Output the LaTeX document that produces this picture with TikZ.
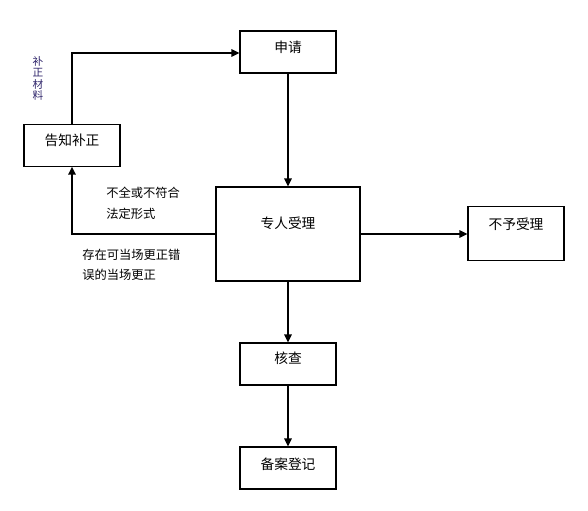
\documentclass[tikz,border=0pt]{standalone}
\usepackage{fontspec}
\setmainfont{Noto Sans CJK SC}
\usetikzlibrary{arrows.meta}
\definecolor{vlab}{RGB}{45,35,105}
\tikzset{
  box/.style={draw=black, line width=0.8pt, rectangle, inner sep=0pt},
  boxtext/.style={font=\fontsize{10.3pt}{11pt}\selectfont},
  lab/.style={font=\fontsize{9.2pt}{10pt}\selectfont, anchor=west, inner sep=0pt},
  conn/.style={line width=1.5pt, -{Triangle[length=6pt,width=5.5pt]}},
}
\begin{document}
\begin{tikzpicture}[x=0.75pt,y=-0.75pt]
\useasboundingbox (0,0) rectangle (588,510);
% boxes
\node[box, minimum width=72pt, minimum height=31.5pt] (shen) at (288,52) {};
\node[box, minimum width=72pt, minimum height=31pt] (gao) at (72,145.5) {};
\node[box, minimum width=108pt, minimum height=70.5pt] (zhuan) at (288,234) {};
\node[box, minimum width=72pt, minimum height=40pt] (buyu) at (516,233.5) {};
\node[box, minimum width=72pt, minimum height=31.5pt] (he) at (288,364) {};
\node[box, minimum width=72pt, minimum height=31.5pt] (bei) at (288,468) {};
% box texts
\node[boxtext] (tshen) at (288,47) {申请};
\node[boxtext] (tgao) at (72,140) {告知补正};
\node[boxtext] (tzhuan) at (288,223) {专人受理};
\node[boxtext] (tbuyu) at (516,224) {不予受理};
\node[boxtext] (the) at (288,358) {核查};
\node[boxtext] (tbei) at (288,464) {备案登记};
% connectors
\coordinate (c1) at (72,234);
\coordinate (c2) at (72,53);
\draw[conn] (shen.south) -- (zhuan.north);
\draw[conn] (zhuan.east |- 0,234) -- (buyu.west |- 0,234);
\draw[conn] (zhuan.south) -- (he.north);
\draw[conn] (he.south) -- (bei.north);
\draw[conn] (zhuan.west |- c1) -- (c1) -- (gao.south);
\draw[conn] (gao.north) -- (c2) -- (shen.west |- c2);
% labels
\node[lab, text=vlab, anchor=north, align=center, font=\fontsize{8pt}{8.6pt}\selectfont] (vt) at (38,56) {补\\正\\材\\料};
\node[lab] (l1) at (106,193) {不全或不符合};
\node[lab] (l2) at (106,214) {法定形式};
\node[lab] (l3) at (82,255) {存在可当场更正错};
\node[lab] (l4) at (82,275) {误的当场更正};
\end{tikzpicture}
\end{document}
